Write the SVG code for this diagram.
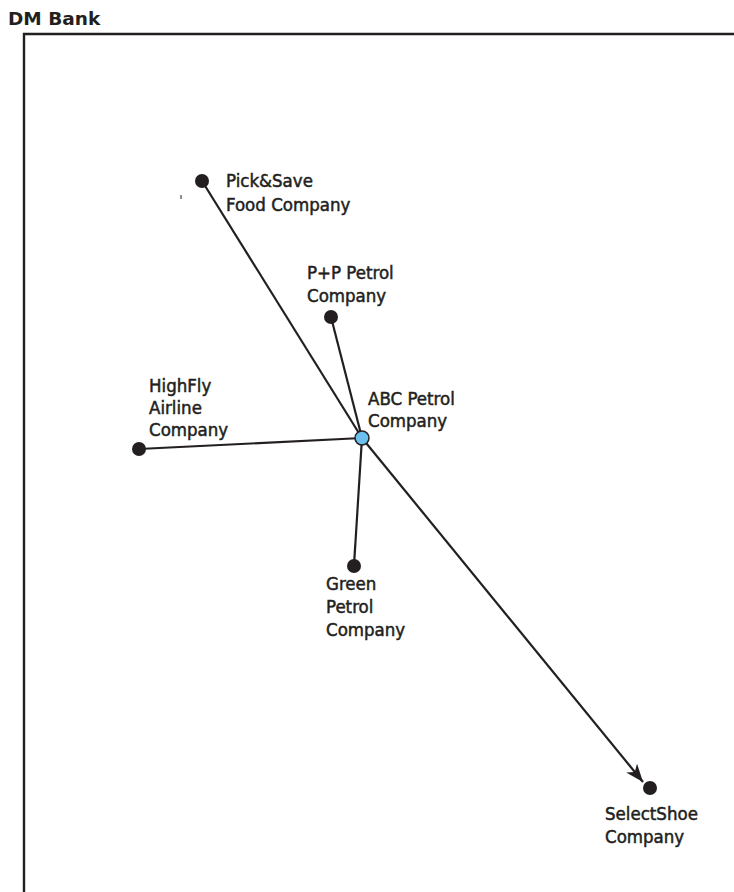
<svg xmlns="http://www.w3.org/2000/svg" width="734" height="892" viewBox="0 0 734 892">
  <style>
    .lbl { font-family: "DejaVu Sans Condensed", "DejaVu Sans", sans-serif; font-stretch: condensed; font-size: 18.5px; fill: #231f20; stroke: #231f20; stroke-width: 0.5; }
    .title { font-family: "DejaVu Sans", Verdana, sans-serif; font-size: 18.5px; font-weight: bold; fill: #231f20; }
    .edge { stroke: #231f20; stroke-width: 2.2; fill: none; }
    .dot { fill: #231f20; }
    .hub { fill: #6cc0ee; stroke: #231f20; stroke-width: 1.5; }
  </style>
  <defs>
    <marker id="arrowhead" viewBox="0 0 18 14" refX="18" refY="7" markerWidth="18" markerHeight="14" markerUnits="userSpaceOnUse" orient="auto">
      <path d="M0,0 L18,7 L0,14 L5,7 Z" fill="#231f20"/>
    </marker>
  </defs>
  <rect width="734" height="892" fill="#ffffff"/>

  <!-- frame -->
  <text class="title" x="8" y="25">DM Bank</text>
  <path d="M24,892 V34 H734" stroke="#231f20" stroke-width="2.4" fill="none"/>
  <line x1="181" y1="195" x2="181" y2="199" stroke="#231f20" stroke-width="1"/>

  <!-- connectors -->
  <g id="connectors">
    <line class="edge" x1="202" y1="181" x2="362" y2="438"/>
    <line class="edge" x1="331" y1="317" x2="362" y2="438"/>
    <line class="edge" x1="139" y1="449" x2="362" y2="438"/>
    <line class="edge" x1="354" y1="565" x2="362" y2="438"/>
    <line class="edge" x1="362" y1="438" x2="643" y2="782" marker-end="url(#arrowhead)"/>
  </g>

  <g id="pick-save">
    <circle class="dot" cx="202" cy="181" r="7"/>
    <text class="lbl" x="226" y="187">Pick&amp;Save</text>
    <text class="lbl" x="226" y="211">Food Company</text>
  </g>

  <g id="pp-petrol">
    <circle class="dot" cx="331" cy="317" r="7"/>
    <text class="lbl" x="307" y="279">P+P Petrol</text>
    <text class="lbl" x="307" y="302">Company</text>
  </g>

  <g id="highfly">
    <circle class="dot" cx="139" cy="449" r="7"/>
    <text class="lbl" x="149" y="392">HighFly</text>
    <text class="lbl" x="149" y="414">Airline</text>
    <text class="lbl" x="149" y="436">Company</text>
  </g>

  <g id="green-petrol">
    <circle class="dot" cx="354" cy="566" r="7"/>
    <text class="lbl" x="326" y="590">Green</text>
    <text class="lbl" x="326" y="613">Petrol</text>
    <text class="lbl" x="326" y="636">Company</text>
  </g>

  <g id="selectshoe">
    <circle class="dot" cx="650" cy="788" r="7"/>
    <text class="lbl" x="605" y="820">SelectShoe</text>
    <text class="lbl" x="605" y="843">Company</text>
  </g>

  <g id="abc-petrol">
    <circle class="hub" cx="362" cy="438" r="7"/>
    <text class="lbl" x="368" y="405">ABC Petrol</text>
    <text class="lbl" x="368" y="427">Company</text>
  </g>
</svg>
